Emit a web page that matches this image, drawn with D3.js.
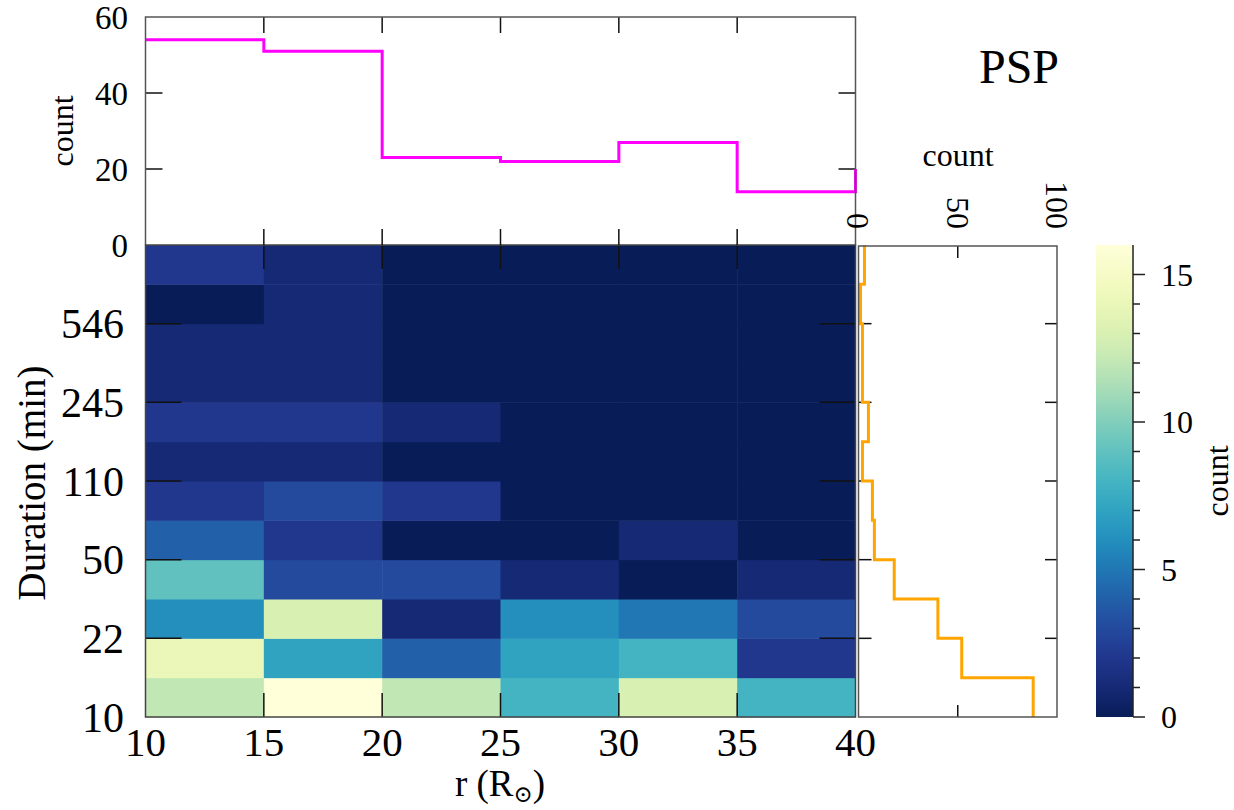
<!DOCTYPE html>
<html><head><meta charset="utf-8">
<script src="https://cdn.jsdelivr.net/npm/d3@7"></script>
<style>
html,body{margin:0;padding:0;background:#fff;}
svg{display:block;font-family:"Liberation Serif","DejaVu Serif",serif;}
</style></head>
<body><svg id="c" width="1234" height="810"></svg>
<script>
// ---- data ----
const rEdges = [10, 15, 20, 25, 30, 35, 40];
const durTickRows = [0, 2, 4, 6, 8, 10];
const durTickLabels = ["10", "22", "50", "110", "245", "546"];
// heat-map counts, rows from shortest (bottom) to longest duration (top), columns by r bin
const heatRow0  = [12, 16, 12, 8, 13, 8];
const heatRow1  = [14, 7, 4, 7, 8, 2];
const heatRow2  = [6, 13, 1, 6, 5, 3];
const heatRow3  = [9, 3, 3, 1, 0, 1];
const heatRow4  = [4, 2, 0, 0, 1, 0];
const heatRow5  = [2, 3, 2, 0, 0, 0];
const heatRow6  = [1, 1, 0, 0, 0, 0];
const heatRow7  = [2, 2, 1, 0, 0, 0];
const heatRow8  = [1, 1, 0, 0, 0, 0];
const heatRow9  = [1, 1, 0, 0, 0, 0];
const heatRow10 = [0, 1, 0, 0, 0, 0];
const heatRow11 = [2, 1, 0, 0, 0, 0];
const heatRows = [heatRow0, heatRow1, heatRow2, heatRow3, heatRow4, heatRow5,
                  heatRow6, heatRow7, heatRow8, heatRow9, heatRow10, heatRow11];
const rBinCounts = [54, 51, 23, 22, 27, 14];
const rNextBinCount = 20;          // next bin (partly visible at the right edge)
const durBinCounts = [88, 52, 40, 18, 8, 7, 2, 5, 2, 2, 1, 3]; // bottom -> top
const topHistTicks = [0, 20, 40, 60];
const rightHistTicks = [0, 50, 100];
const cbMajorTicks = [0, 5, 10, 15];

// ---- layout ----
const svg = d3.select("#c");
const X0 = 145.5, X1 = 855.5, Y0 = 245, Y1 = 717;
const TH0 = 17;               // top hist top
const RX0 = 858.5, RX1 = 1057; // right hist
const CB0 = 1096, CB1 = 1133;

const x = d3.scaleLinear().domain([10, 40]).range([X0, X1]);
const yRow = d3.scaleLinear().domain([0, heatRows.length]).range([Y1, Y0]);
const yTop = d3.scaleLinear().domain([0, 60]).range([Y0, TH0]);
const xRight = d3.scaleLinear().domain([0, 100]).range([RX0, RX1]);
const cbScale = d3.scaleLinear().domain([0, 16]).range([Y1, Y0]);
const color = v => d3.interpolateYlGnBu(1 - v / 16);

// ---- heat map ----
const cells = [];
heatRows.forEach((row, i) => row.forEach((v, j) => cells.push({i, j, v})));
svg.append("g").selectAll("rect").data(cells).join("rect")
  .attr("x", d => x(rEdges[d.j]))
  .attr("y", d => yRow(d.i + 1))
  .attr("width", d => x(rEdges[d.j + 1]) - x(rEdges[d.j]) + 0.5)
  .attr("height", d => yRow(d.i) - yRow(d.i + 1) + 0.5)
  .attr("fill", d => color(d.v));

const tickG = svg.append("g").attr("stroke", "#111").attr("stroke-width", 1.5);
rEdges.slice(1, -1).forEach(r => {
  tickG.append("line").attr("x1", x(r)).attr("x2", x(r)).attr("y1", Y0).attr("y2", Y0 + 24);
  tickG.append("line").attr("x1", x(r)).attr("x2", x(r)).attr("y1", Y1).attr("y2", Y1 - 24);
});
durTickRows.slice(1).forEach(k => {
  tickG.append("line").attr("x1", X0).attr("x2", X0 + 36).attr("y1", yRow(k)).attr("y2", yRow(k));
  tickG.append("line").attr("x1", X1).attr("x2", X1 - 36).attr("y1", yRow(k)).attr("y2", yRow(k));
});
svg.append("rect").attr("x", X0).attr("y", Y0).attr("width", X1 - X0).attr("height", Y1 - Y0)
  .attr("fill", "none").attr("stroke", "#444").attr("stroke-width", 1.5);

// heat-map labels
svg.append("g").selectAll("text").data(rEdges).join("text")
  .attr("x", d => x(d)).attr("y", 756).attr("text-anchor", "middle")
  .attr("font-size", 41).text(d => d);
svg.append("g").selectAll("text").data(durTickRows).join("text")
  .attr("x", 124).attr("y", d => yRow(d)).attr("dy", "0.35em").attr("text-anchor", "end")
  .attr("font-size", 42).text((d, i) => durTickLabels[i]);
const xl = svg.append("text").attr("x", 500).attr("y", 796).attr("text-anchor", "middle").attr("font-size", 37);
xl.append("tspan").text("r (R");
xl.append("tspan").attr("font-size", 23).attr("dy", 6).text("\u2299");
xl.append("tspan").attr("dy", -6).text(")");
svg.append("text").attr("transform", "translate(45,483) rotate(-90)")
  .attr("text-anchor", "middle").attr("font-size", 39).text("Duration (min)");

// ---- top histogram ----
const tg = svg.append("g").attr("stroke", "#111").attr("stroke-width", 1.5);
rEdges.slice(1, -1).forEach(r => {
  tg.append("line").attr("x1", x(r)).attr("x2", x(r)).attr("y1", Y0).attr("y2", Y0 - 16);
  tg.append("line").attr("x1", x(r)).attr("x2", x(r)).attr("y1", TH0).attr("y2", TH0 + 16);
});
topHistTicks.slice(1, -1).forEach(t => {
  tg.append("line").attr("x1", X0).attr("x2", X0 + 17).attr("y1", yTop(t)).attr("y2", yTop(t));
  tg.append("line").attr("x1", X1).attr("x2", X1 - 17).attr("y1", yTop(t)).attr("y2", yTop(t));
});
const topPts = rBinCounts.map((c, i) => [rEdges[i], c]).concat([[40, rNextBinCount]]);
svg.append("path").datum(topPts)
  .attr("d", d3.line().x(d => x(d[0])).y(d => yTop(d[1])).curve(d3.curveStepAfter))
  .attr("fill", "none").attr("stroke", "#ff00ff").attr("stroke-width", 3);
svg.append("path")
  .attr("d", `M${X0},${Y0}V${TH0}H${X1}V${Y0}`)
  .attr("fill", "none").attr("stroke", "#555").attr("stroke-width", 1.5);
svg.append("g").selectAll("text").data(topHistTicks).join("text")
  .attr("x", 128).attr("y", d => yTop(d)).attr("dy", "0.35em").attr("text-anchor", "end")
  .attr("font-size", 33).text(d => d);
svg.append("text").attr("transform", "translate(73,131) rotate(-90)")
  .attr("text-anchor", "middle").attr("font-size", 32).text("count");

// ---- right histogram ----
const rg = svg.append("g").attr("stroke", "#111").attr("stroke-width", 1.5);
durTickRows.slice(1).forEach(k => {
  rg.append("line").attr("x1", RX0).attr("x2", RX0 + 13).attr("y1", yRow(k)).attr("y2", yRow(k));
  rg.append("line").attr("x1", RX1).attr("x2", RX1 - 12).attr("y1", yRow(k)).attr("y2", yRow(k));
});
rightHistTicks.slice(1, -1).forEach(t => {
  rg.append("line").attr("x1", xRight(t)).attr("x2", xRight(t)).attr("y1", Y0 + 1).attr("y2", Y0 + 13);
  rg.append("line").attr("x1", xRight(t)).attr("x2", xRight(t)).attr("y1", Y1).attr("y2", Y1 - 12);
});
const rp = d3.path();
durBinCounts.slice().reverse().forEach((c, idx) => {
  const i = durBinCounts.length - 1 - idx;
  const xx = xRight(c);
  if (idx === 0) rp.moveTo(xx, yRow(i + 1)); else rp.lineTo(xx, yRow(i + 1));
  rp.lineTo(xx, yRow(i));
});
svg.append("path").attr("d", rp.toString())
  .attr("fill", "none").attr("stroke", "#ffa500").attr("stroke-width", 3);
svg.append("rect").attr("x", RX0).attr("y", Y0 + 1).attr("width", RX1 - RX0).attr("height", Y1 - Y0 - 1)
  .attr("fill", "none").attr("stroke", "#555").attr("stroke-width", 1.5);
svg.append("g").selectAll("text").data(rightHistTicks).join("text")
  .attr("transform", d => `translate(${xRight(d)},229) rotate(90)`)
  .attr("dy", "0.35em").attr("text-anchor", "end")
  .attr("font-size", 32).text(d => d);
svg.append("text").attr("x", 958).attr("y", 166).attr("text-anchor", "middle")
  .attr("font-size", 32).text("count");

// ---- colour bar ----
const grad = svg.append("defs").append("linearGradient").attr("id", "cbg")
  .attr("x1", 0).attr("y1", 1).attr("x2", 0).attr("y2", 0);
d3.range(0, 16.01, 0.5).forEach(v => {
  grad.append("stop").attr("offset", v / 16).attr("stop-color", color(v));
});
svg.append("rect").attr("x", CB0).attr("y", Y0).attr("width", CB1 - CB0).attr("height", Y1 - Y0)
  .attr("fill", "url(#cbg)");
const cg = svg.append("g").attr("stroke", "#222").attr("stroke-width", 1.5);
cg.append("line").attr("x1", CB1).attr("x2", CB1).attr("y1", Y0).attr("y2", Y1);
d3.range(0, 16).forEach(v => {
  const major = cbMajorTicks.includes(v);
  cg.append("line").attr("x1", CB1).attr("x2", CB1 + (major ? 12 : 7))
    .attr("y1", cbScale(v)).attr("y2", cbScale(v));
});
svg.append("g").selectAll("text").data(cbMajorTicks).join("text")
  .attr("x", 1161).attr("y", d => cbScale(d)).attr("dy", "0.35em")
  .attr("font-size", 32).text(d => d);
svg.append("text").attr("transform", "translate(1228,481) rotate(-90)")
  .attr("text-anchor", "middle").attr("font-size", 32).text("count");

// ---- title ----
svg.append("text").attr("x", 1019).attr("y", 83).attr("text-anchor", "middle")
  .attr("font-size", 48).text("PSP");
</script>
</body></html>
